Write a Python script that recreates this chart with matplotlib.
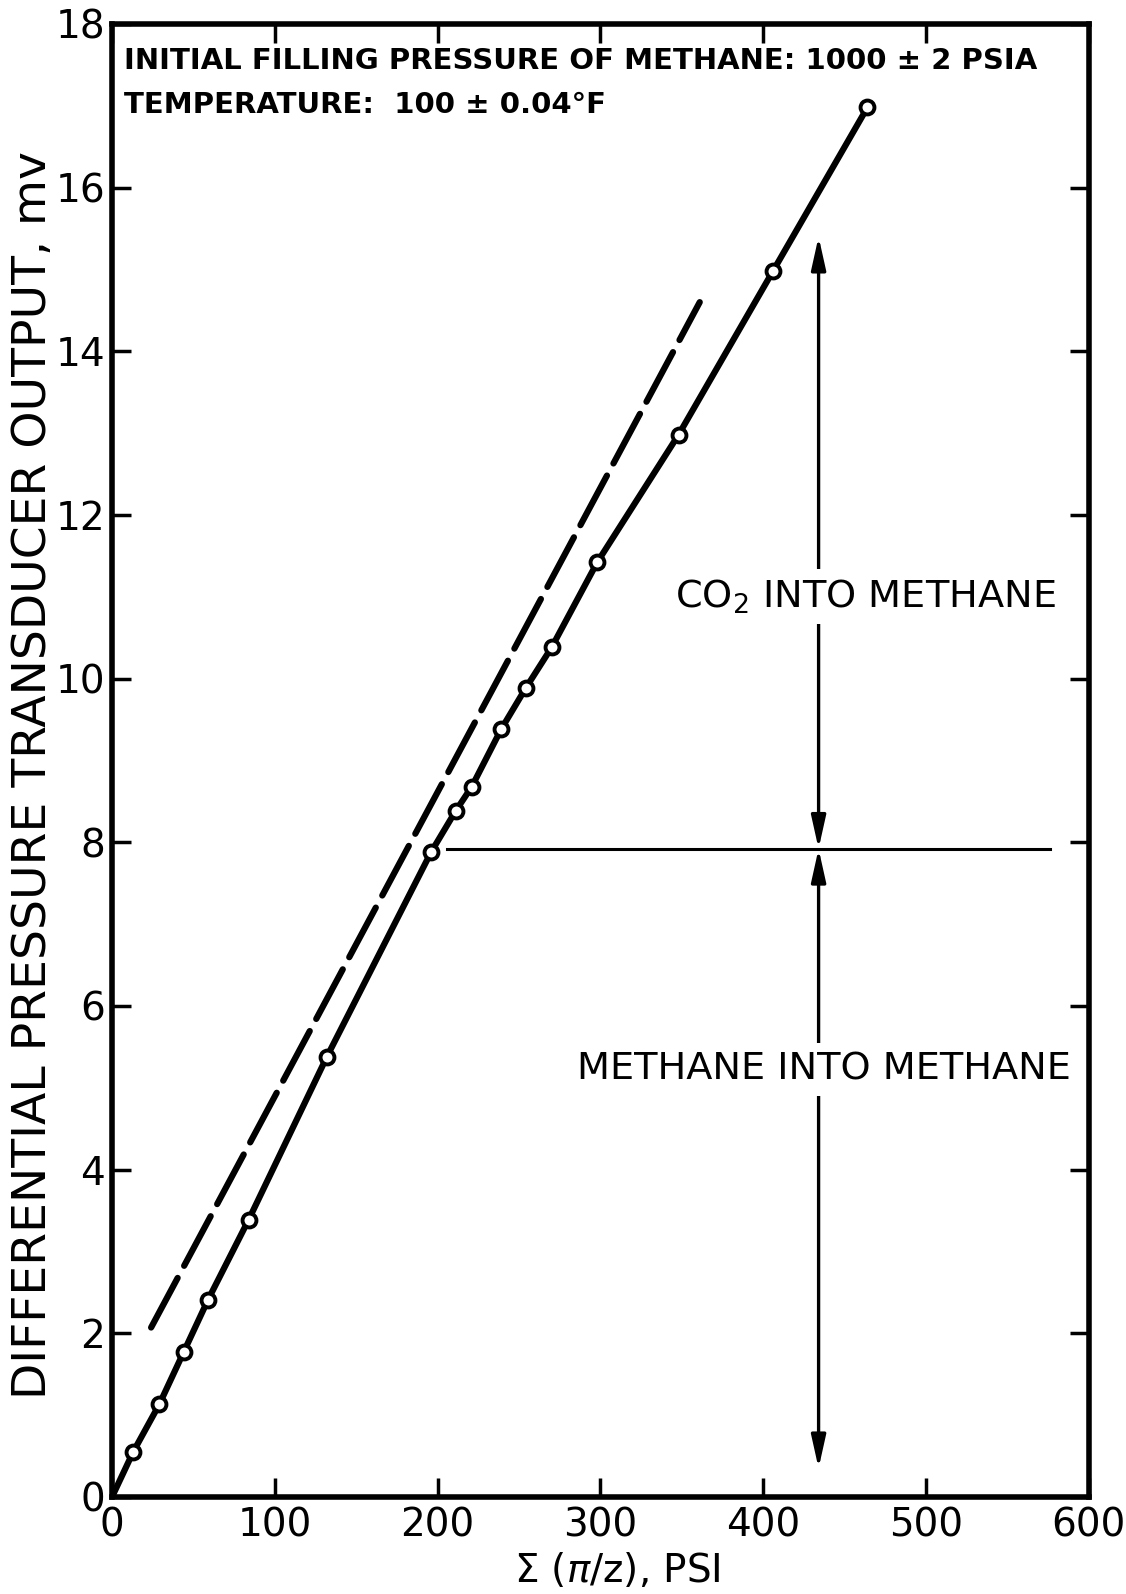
import matplotlib
matplotlib.use("Agg")
import matplotlib.pyplot as plt

# measured points, methane then CO2 into methane
sum_pz = [0, 13, 29, 44, 59, 84, 132, 196, 211, 221, 239, 254, 270, 298, 348, 406, 464]
output_mv = [0, 0.55, 1.13, 1.77, 2.41, 3.39, 5.38, 7.88, 8.38, 8.68, 9.38, 9.88, 10.38, 11.42, 12.98, 14.98, 16.98]

# dashed reference line (end points)
ref_x = [24, 361]
ref_y = [2.07, 14.6]

# split between the two filling stages
split_x = [206, 576]
split_y = 7.92
arrow_x = 434
arrow_top = 15.4
arrow_bottom = 0.35

xticks = [0, 100, 200, 300, 400, 500, 600]
yticks = [0, 2, 4, 6, 8, 10, 12, 14, 16, 18]

plt.rcParams['font.family'] = ['DejaVu Sans']

fig = plt.figure(figsize=(11.26, 15.94), dpi=100)
ax = fig.add_axes([0.0995, 0.0609, 0.8675, 0.9241])

ax.plot(sum_pz, output_mv, color='k', lw=4.5, solid_capstyle='round', zorder=3)
ax.plot(sum_pz[1:], output_mv[1:], 'o', ms=10, mfc='white', mec='k', mew=2.8, zorder=4)
ax.plot(ref_x, ref_y, color='k', lw=4.5, dashes=(9, 2.2), dash_capstyle='round', zorder=2)

ax.plot(split_x, [split_y, split_y], color='k', lw=2.2, zorder=2)

arr = dict(arrowstyle='<|-|>,head_length=0.9,head_width=0.2', color='k', lw=2.4,
           mutation_scale=22, shrinkA=0, shrinkB=0)
ax.annotate('', xy=(arrow_x, arrow_top), xytext=(arrow_x, split_y), arrowprops=arr, zorder=2)
ax.annotate('', xy=(arrow_x, arrow_bottom), xytext=(arrow_x, split_y), arrowprops=arr, zorder=2)

box = dict(facecolor='white', edgecolor='none', pad=6)
ax.text(463, 11.0, 'CO$_2$ INTO METHANE', fontsize=27.5, ha='center', va='center',
        bbox=box, zorder=5)
ax.text(437, 5.22, 'METHANE INTO METHANE', fontsize=27.5, ha='center', va='center',
        bbox=box, zorder=5)

ax.text(0.012, 0.984, 'INITIAL FILLING PRESSURE OF METHANE: 1000 \u00b1 2 PSIA',
        transform=ax.transAxes, fontsize=21, fontweight='bold', va='top', ha='left')
ax.text(0.012, 0.9545, 'TEMPERATURE:  100 \u00b1 0.04\u00b0F',
        transform=ax.transAxes, fontsize=21, fontweight='bold', va='top', ha='left')

ax.set_xlim(0, 600)
ax.set_ylim(0, 18)
ax.set_xticks(xticks)
ax.set_yticks(yticks)
ax.tick_params(direction='in', length=14, width=2.5, labelsize=28,
               top=True, right=True, pad=7)
ax.tick_params(axis='y', pad=5)
for s in ax.spines.values():
    s.set_linewidth(4)

ax.set_xlabel('$\\Sigma$ ($\\pi$/z), PSI', fontsize=28)
ax.xaxis.set_label_coords(0.517, -0.037)
ax.set_ylabel('DIFFERENTIAL PRESSURE TRANSDUCER OUTPUT, mv', fontsize=34)
ax.yaxis.set_label_coords(-0.057, 0.49)

fig.savefig('out.png', dpi=100)
